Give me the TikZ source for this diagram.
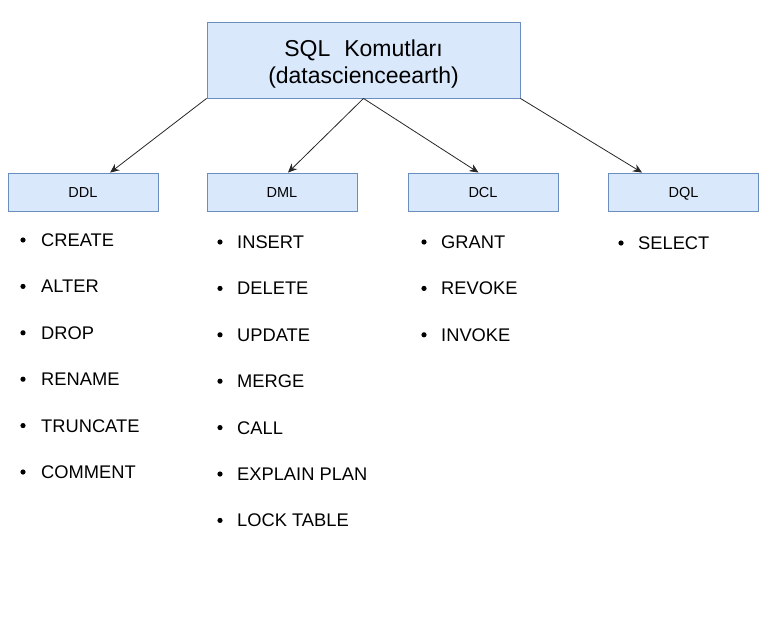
\documentclass[tikz,border=0pt]{standalone}
\usepackage{fontspec}
\setmainfont{Liberation Sans}
\usetikzlibrary{arrows.meta,calc}
\definecolor{boxfill}{HTML}{DAE8FC}
\definecolor{boxline}{HTML}{6C8EBF}

\begin{document}
\begin{tikzpicture}[x=1pt,y=-1pt,
  box/.style={draw=boxline, fill=boxfill, line width=0.9pt, inner sep=0pt},
  group/.style={box, minimum width=150pt, minimum height=38pt,
    font=\fontsize{14.5}{16}\selectfont, text height=10.4pt, text depth=0pt},
  item/.style={anchor=west, inner sep=0pt, font=\fontsize{18.3}{20}\selectfont,
    text height=13.1pt, text depth=0pt},
  link/.style={-{Stealth[length=9pt,width=8pt]}, line width=0.8pt, draw=black!85}]
  \useasboundingbox (0,0) rectangle (777,624);

  % Root box and the four groups
  \node[box, minimum width=313pt, minimum height=76pt, align=center, text height=51.5pt,
    font=\fontsize{23}{27}\selectfont] (root) at (363.5,60)
    {SQL\hspace{14pt}Komutları\\(datascienceearth)};
  \node[group] (ddl) at (83,192) {DDL};
  \node[group] (dml) at (282,192) {DML};
  \node[group] (dcl) at (483,192) {DCL};
  \node[group] (dql) at (683.5,192) {DQL};

  % Arrows from the root to each group
  \draw[link] (root.south west) -- ($(ddl.north west)!0.68!(ddl.north east)$);
  \draw[link] (root.south) -- ($(dml.north west)!0.54!(dml.north east)$);
  \draw[link] (root.south) -- ($(dcl.north west)!0.47!(dcl.north east)$);
  \draw[link] (root.south east) -- ($(dql.north west)!0.225!(dql.north east)$);

  % Bullet lists under the groups
  \foreach \name [count=\i] in {CREATE,ALTER,DROP,RENAME,TRUNCATE,COMMENT} {
    \node[item] (ddl-\i) at (41,193.6+46.4*\i) {\name};
    \fill (ddl-\i.west) ++(-18,0) circle (2.6pt);
  }
  \foreach \name [count=\i] in {INSERT,DELETE,UPDATE,MERGE,CALL,EXPLAIN PLAN,LOCK TABLE} {
    \node[item] (dml-\i) at (237,195.6+46.4*\i) {\name};
    \fill (dml-\i.west) ++(-17,0) circle (2.6pt);
  }
  \foreach \name [count=\i] in {GRANT,REVOKE,INVOKE} {
    \node[item] (dcl-\i) at (441,195.6+46.4*\i) {\name};
    \fill (dcl-\i.west) ++(-17,0) circle (2.6pt);
  }
  \foreach \name [count=\i] in {SELECT} {
    \node[item] (dql-\i) at (638,196.6+46.4*\i) {\name};
    \fill (dql-\i.west) ++(-17,0) circle (2.6pt);
  }
\end{tikzpicture}
\end{document}
